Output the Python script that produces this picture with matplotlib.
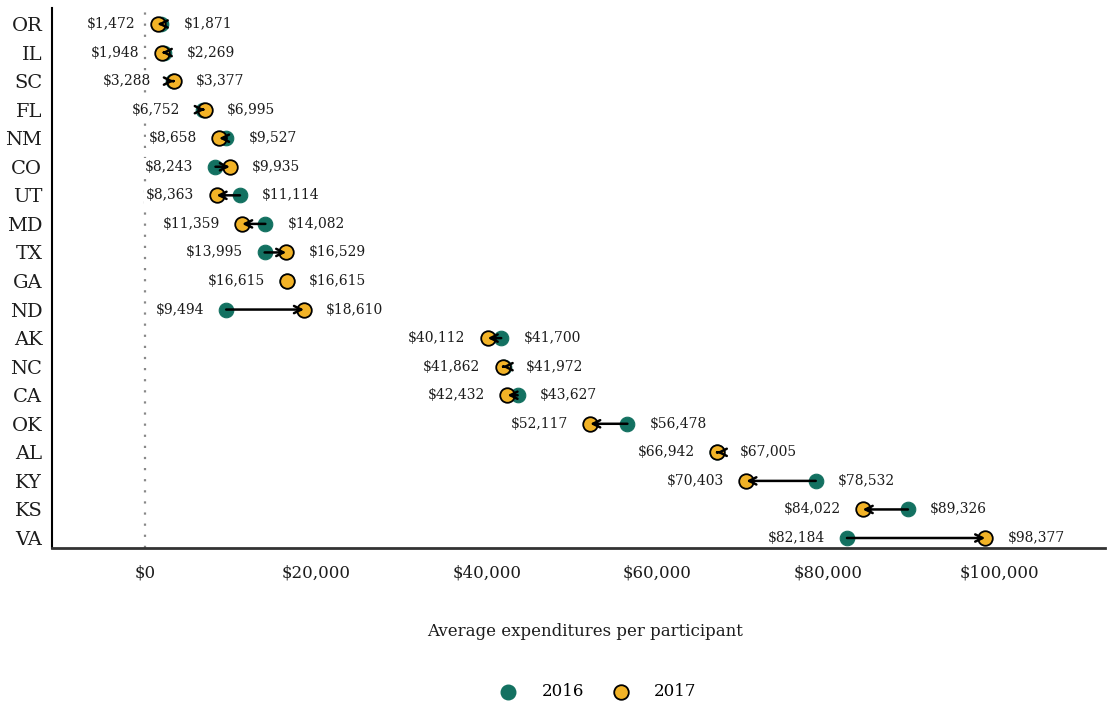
import matplotlib
matplotlib.use("Agg")
import matplotlib.pyplot as plt

states = ["OR", "IL", "SC", "FL", "NM", "CO", "UT", "MD", "TX", "GA",
          "ND", "AK", "NC", "CA", "OK", "AL", "KY", "KS", "VA"]
values_2016 = [1871, 2269, 3288, 6752, 9527, 8243, 11114, 14082, 13995, 16615,
               9494, 41700, 41972, 43627, 56478, 67005, 78532, 89326, 82184]
values_2017 = [1472, 1948, 3377, 6995, 8658, 9935, 8363, 11359, 16529, 16615,
               18610, 40112, 41862, 42432, 52117, 66942, 70403, 84022, 98377]
x_ticks = [0, 20000, 40000, 60000, 80000, 100000]
legend_labels = ["2016", "2017"]

GREEN = "#137161"
YELLOW = "#f2b327"
TEXT = "#1c1c1c"
FONT = "DejaVu Serif"

plt.rcParams["font.family"] = FONT

fig = plt.figure(figsize=(11.09, 7.04), dpi=100)
ax = fig.add_axes([52 / 1109, 1 - 548 / 704, (1105 - 52) / 1109, (548 - 8) / 704])

ypos = list(range(len(states)))

ax.axvline(0, color="#888888", ls=(0, (1, 4)), lw=1.6, zorder=0.5)

ax.scatter(values_2016, ypos, s=110, color=GREEN, edgecolors=GREEN, linewidths=0.8, zorder=3)
ax.scatter(values_2017, ypos, s=110, color=YELLOW, edgecolors="black", linewidths=1.3, zorder=4)

for y, a, b in zip(ypos, values_2016, values_2017):
    if a != b:
        ax.annotate("", xy=(b, y), xytext=(a, y),
                    arrowprops=dict(arrowstyle="->", lw=1.8, color="black",
                                    shrinkA=0, shrinkB=0, mutation_scale=13),
                    zorder=5)
    lo, hi = min(a, b), max(a, b)
    bbox = dict(boxstyle="square,pad=0.15", fc="white", ec="none")
    ax.annotate(f"${lo:,}", xy=(lo, y), xytext=(-16, 0), textcoords="offset points",
                ha="right", va="center", fontsize=10, color=TEXT, bbox=bbox, zorder=6)
    ax.annotate(f"${hi:,}", xy=(hi, y), xytext=(16, 0), textcoords="offset points",
                ha="left", va="center", fontsize=10, color=TEXT, bbox=bbox, zorder=6)

ax.set_yticks(ypos)
ax.set_yticklabels(states, fontsize=14, color=TEXT)
ax.set_ylim(18.35, -0.56)
ax.set_xlim(-10900, 112400)
ax.set_xticks(x_ticks)
ax.set_xticklabels([f"${v:,}" for v in x_ticks], fontsize=12, color=TEXT)
ax.tick_params(axis="both", length=0)
ax.tick_params(axis="x", pad=12)
ax.tick_params(axis="y", pad=7)

for s in ["top", "right"]:
    ax.spines[s].set_visible(False)
ax.spines["left"].set_color("black")
ax.spines["left"].set_linewidth(1.5)
ax.spines["bottom"].set_color("#333333")
ax.spines["bottom"].set_linewidth(2)

fig.text(585 / 1109, 1 - 632 / 704, "Average expenditures per participant",
         ha="center", va="center", fontsize=12, color=TEXT)

h1 = ax.scatter([], [], s=110, color=GREEN, edgecolors=GREEN)
h2 = ax.scatter([], [], s=110, color=YELLOW, edgecolors="black", linewidths=1.3)
fig.legend([h1, h2], legend_labels, loc="center", ncol=2,
           bbox_to_anchor=(594 / 1109, 1 - 692 / 704), frameon=False,
           fontsize=12, handletextpad=1.0, columnspacing=1.2)

fig.savefig("out.png", dpi=100, facecolor="white")
